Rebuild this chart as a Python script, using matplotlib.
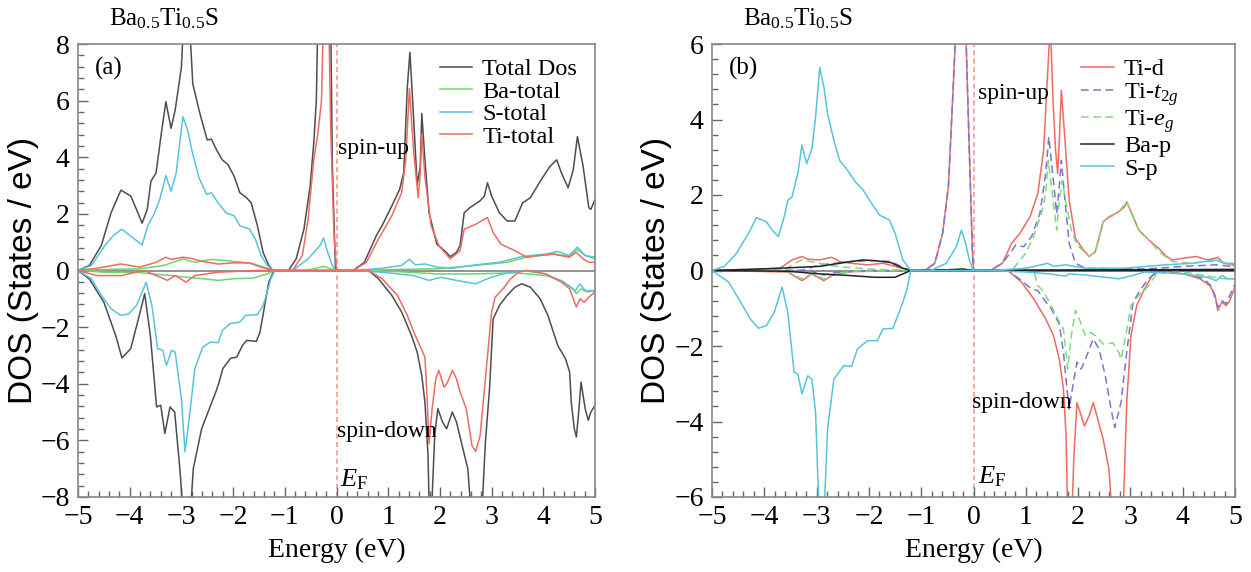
import numpy as np
import matplotlib
matplotlib.use("Agg")
import matplotlib.pyplot as plt
from matplotlib.ticker import MultipleLocator

plt.rcParams["font.family"] = ["Liberation Serif", "DejaVu Serif"]
plt.rcParams["mathtext.fontset"] = "custom"
plt.rcParams["mathtext.rm"] = "Liberation Serif"
plt.rcParams["mathtext.it"] = "Liberation Serif:italic"

# ---- panel (a): total / atom-resolved DOS, [energy, DOS] pairs ----
tot_up = [[-5, 0], [-4.78, 0.18], [-4.55, 0.88], [-4.36, 2.04], [-4.17, 2.84], [-3.98, 2.63], [-3.87, 2.16],
          [-3.76, 1.67], [-3.66, 2.16], [-3.59, 3.15], [-3.49, 3.45], [-3.38, 4.96], [-3.3, 5.96], [-3.2, 5.02],
          [-3.12, 5.67], [-3.0, 7.18], [-2.95, 9], [-2.85, 9], [-2.78, 6.6], [-2.66, 5.67], [-2.59, 5.2],
          [-2.5, 4.61], [-2.42, 4.64], [-2.32, 4.26], [-2.21, 3.91], [-2.1, 3.74], [-1.98, 3.33], [-1.87, 2.75],
          [-1.74, 2.57], [-1.65, 2.39], [-1.53, 1.58], [-1.42, 0.64], [-1.31, 0.18], [-1.23, 0], [-0.93, 0],
          [-0.78, 0.41], [-0.63, 1.46], [-0.51, 2.98], [-0.44, 4.5], [-0.39, 6.0], [-0.35, 10], [-0.12, 10],
          [-0.08, 3.7], [-0.02, 0], [0.32, 0], [0.54, 0.29], [0.77, 1.23], [0.88, 1.58], [1.07, 2.28],
          [1.22, 2.86], [1.3, 3.45], [1.37, 6.48], [1.42, 7.71], [1.49, 5.43], [1.56, 3.04], [1.62, 3.68],
          [1.65, 5.55], [1.71, 3.91], [1.79, 2.04], [1.94, 0.93], [2.09, 0.7], [2.2, 0.49], [2.32, 0.64],
          [2.39, 0.88], [2.47, 2.04], [2.58, 2.22], [2.77, 2.45], [2.86, 2.63], [2.92, 3.1], [3.0, 2.63],
          [3.15, 2.04], [3.3, 1.75], [3.45, 1.75], [3.6, 2.39], [3.75, 2.57], [3.94, 3.15], [4.13, 3.68],
          [4.26, 3.91], [4.35, 3.45], [4.48, 2.92], [4.58, 3.56], [4.66, 4.73], [4.77, 3.68], [4.88, 2.22],
          [4.92, 2.16], [5.0, 2.51]]
tot_dn = [[-5, 0], [-4.78, -0.3], [-4.5, -1.12], [-4.27, -2.3], [-4.15, -3.09], [-3.98, -2.76], [-3.83, -1.7],
          [-3.71, -0.82], [-3.6, -2.3], [-3.48, -4.82], [-3.4, -4.76], [-3.32, -5.76], [-3.22, -4.82],
          [-3.13, -5.0], [-3.03, -7.0], [-2.95, -9], [-2.84, -9], [-2.77, -7.0], [-2.61, -5.6], [-2.46, -4.88],
          [-2.33, -4.27], [-2.27, -3.94], [-2.2, -3.47], [-2.05, -3.1], [-1.93, -3.06], [-1.82, -2.65],
          [-1.74, -2.47], [-1.55, -2.5], [-1.48, -2.18], [-1.4, -1.35], [-1.31, -0.41], [-1.21, 0], [0.62, 0],
          [0.81, -0.29], [1.07, -0.88], [1.26, -1.47], [1.45, -2.29], [1.56, -2.88], [1.65, -3.71], [1.71, -4.65],
          [1.77, -6.53], [1.8, -9], [1.85, -8.0], [1.9, -5.82], [1.96, -4.88], [2.05, -5.35], [2.13, -5.59],
          [2.24, -5.0], [2.32, -5.35], [2.43, -6.18], [2.54, -7.0], [2.62, -9], [2.8, -9], [2.88, -6.06],
          [2.96, -4.18], [3.03, -1.71], [3.15, -1.24], [3.3, -0.88], [3.45, -0.59], [3.58, -0.47], [3.75, -0.59],
          [3.94, -1.0], [4.09, -1.59], [4.28, -2.65], [4.43, -3.12], [4.51, -3.59], [4.54, -4.65], [4.6, -5.59],
          [4.64, -5.88], [4.69, -4.88], [4.73, -3.94], [4.81, -4.88], [4.87, -5.29], [4.92, -5.0], [5.0, -4.76]]
ba_up = [[-5, 0], [-4.4, 0.04], [-3.8, 0.06], [-3.34, 0.18], [-2.97, 0.41], [-2.74, 0.29], [-2.44, 0.39],
         [-2.14, 0.35], [-1.83, 0.29], [-1.61, 0.23], [-1.31, 0.06], [-1.23, 0], [-0.7, 0], [-0.48, 0.04],
         [-0.25, 0.15], [-0.02, 0], [0.32, 0], [1.18, 0.04], [1.94, 0.06], [2.7, 0.18], [3.3, 0.29],
         [3.68, 0.47], [4.2, 0.58], [4.5, 0.5], [4.66, 0.74], [4.81, 0.53], [5.0, 0.41]]
ba_dn = [[-5, 0], [-4.48, -0.06], [-3.87, -0.06], [-3.57, -0.12], [-3.19, -0.18], [-2.89, -0.24], [-2.59, -0.29],
         [-2.29, -0.35], [-1.98, -0.29], [-1.61, -0.27], [-1.34, -0.12], [-1.19, 0], [0.62, 0], [1.18, -0.04],
         [1.94, -0.12], [2.69, -0.12], [3.45, -0.08], [4.05, -0.18], [4.35, -0.35], [4.54, -0.59], [4.64, -0.82],
         [4.73, -0.65], [4.85, -0.76], [5.0, -0.71]]
s_up = [[-5, 0], [-4.74, 0.18], [-4.48, 0.88], [-4.32, 1.23], [-4.15, 1.46], [-3.95, 1.17], [-3.76, 0.9],
        [-3.65, 1.58], [-3.53, 1.99], [-3.42, 2.51], [-3.3, 3.35], [-3.2, 2.8], [-3.1, 3.45], [-3.04, 4.38],
        [-2.97, 5.43], [-2.88, 4.96], [-2.8, 4.26], [-2.66, 3.27], [-2.51, 2.69], [-2.42, 2.75], [-2.29, 2.39],
        [-2.14, 2.04], [-1.98, 1.93], [-1.87, 1.58], [-1.68, 1.46], [-1.57, 1.11], [-1.46, 0.53], [-1.34, 0.18],
        [-1.23, 0], [-0.85, 0], [-0.55, 0.41], [-0.32, 0.88], [-0.25, 1.15], [-0.17, 0.64], [-0.08, 0.18],
        [-0.02, 0], [0.32, 0], [0.88, 0.08], [1.26, 0.18], [1.41, 0.39], [1.53, 0.2], [1.71, 0.23], [1.94, 0.12],
        [2.24, 0.08], [2.7, 0.2], [3.15, 0.29], [3.6, 0.5], [4.05, 0.58], [4.28, 0.67], [4.5, 0.53], [4.66, 0.82],
        [4.81, 0.53], [5.0, 0.47]]
s_dn = [[-5, 0], [-4.74, -0.29], [-4.55, -0.88], [-4.36, -1.35], [-4.17, -1.59], [-4.02, -1.53], [-3.87, -1.24],
        [-3.68, -0.41], [-3.57, -1.24], [-3.46, -2.76], [-3.36, -2.82], [-3.29, -3.35], [-3.19, -2.82],
        [-3.12, -2.88], [-3.0, -4.53], [-2.93, -6.4], [-2.85, -5.24], [-2.74, -3.47], [-2.59, -2.71],
        [-2.44, -2.53], [-2.29, -2.55], [-2.21, -2.12], [-2.06, -1.88], [-1.87, -1.82], [-1.76, -1.59],
        [-1.53, -1.56], [-1.42, -1.24], [-1.34, -0.76], [-1.27, -0.29], [-1.19, 0], [0.32, 0], [0.88, -0.06],
        [1.49, -0.18], [1.79, -0.35], [2.02, -0.24], [2.32, -0.35], [2.69, -0.47], [2.92, -0.29], [3.22, -0.12],
        [3.6, 0], [4.05, -0.12], [4.43, -0.47], [4.62, -0.71], [4.71, -0.47], [4.81, -0.71], [5.0, -0.71]]
ti_up = [[-5, 0], [-4.63, 0.08], [-4.17, 0.23], [-3.8, 0.12], [-3.49, 0.29], [-3.3, 0.47], [-3.19, 0.39],
         [-2.97, 0.47], [-2.82, 0.43], [-2.59, 0.32], [-2.29, 0.23], [-1.98, 0.27], [-1.68, 0.27], [-1.46, 0.12],
         [-1.23, 0], [-0.85, 0], [-0.66, 0.53], [-0.55, 1.8], [-0.44, 3.9], [-0.36, 4.85], [-0.29, 6.0],
         [-0.24, 10], [-0.16, 10], [-0.11, 4.85], [-0.05, 1.34], [0, 0], [0.32, 0], [0.58, 0.29], [0.81, 1.11],
         [1.07, 1.93], [1.26, 2.75], [1.34, 3.91], [1.41, 6.43], [1.49, 4.26], [1.58, 2.57], [1.62, 3.45],
         [1.65, 4.79], [1.71, 3.33], [1.83, 1.58], [1.98, 0.88], [2.2, 0.41], [2.39, 0.7], [2.47, 1.46],
         [2.7, 1.64], [2.92, 1.87], [3.03, 1.34], [3.18, 0.93], [3.45, 0.7], [3.68, 0.47], [3.9, 0.53],
         [4.2, 0.58], [4.5, 0.47], [4.64, 0.64], [4.77, 0.41], [4.88, 0.29], [5.0, 0.29]]
ti_dn = [[-5, 0], [-4.63, -0.18], [-4.17, -0.18], [-3.72, 0], [-3.34, -0.29], [-3.27, -0.35], [-3.12, -0.18],
         [-2.91, -0.41], [-2.74, -0.18], [-2.29, -0.06], [-1.53, 0], [0.62, 0], [0.88, -0.29], [1.18, -0.88],
         [1.37, -1.59], [1.52, -2.29], [1.64, -2.76], [1.71, -3.06], [1.75, -4.41], [1.79, -6.12], [1.85, -4.88],
         [1.92, -3.82], [1.98, -3.53], [2.08, -4.12], [2.15, -3.94], [2.24, -3.53], [2.32, -3.82], [2.39, -4.29],
         [2.51, -4.88], [2.62, -6.18], [2.69, -6.39], [2.78, -5.82], [2.88, -3.82], [3.0, -1.47], [3.07, -0.94],
         [3.22, -0.65], [3.37, -0.29], [3.52, -0.06], [3.68, 0], [4.05, -0.12], [4.35, -0.41], [4.51, -0.65],
         [4.58, -1.0], [4.64, -1.29], [4.71, -1.0], [4.79, -1.12], [4.88, -0.94], [5.0, -0.76]]

# ---- panel (b): orbital-resolved DOS ----
tid_up = [[-5, 0], [-4.3, 0.02], [-3.7, 0.06], [-3.47, 0.28], [-3.28, 0.37], [-3.17, 0.3], [-2.94, 0.28],
          [-2.71, 0.35], [-2.56, 0.24], [-2.33, 0.19], [-2.03, 0.15], [-1.73, 0.19], [-1.5, 0.11], [-1.2, 0],
          [-0.93, 0], [-0.74, 0.19], [-0.59, 0.99], [-0.48, 2.22], [-0.4, 4.5], [-0.35, 6.0], [-0.3, 8],
          [-0.18, 8], [-0.14, 6.0], [-0.08, 3.18], [-0.02, 0.46], [0, 0], [0.32, 0], [0.55, 0.19], [0.73, 0.72],
          [0.89, 0.99], [1.08, 1.42], [1.23, 2.04], [1.34, 3.18], [1.39, 4.5], [1.44, 5.82], [1.47, 6.5],
          [1.52, 4.5], [1.57, 3.18], [1.61, 2.57], [1.64, 3.45], [1.68, 4.77], [1.74, 3.62], [1.83, 1.86],
          [1.95, 0.85], [2.1, 0.55], [2.21, 0.37], [2.33, 0.5], [2.48, 1.29], [2.59, 1.42], [2.78, 1.56],
          [2.89, 1.69], [2.93, 1.82], [3.01, 1.56], [3.16, 1.07], [3.35, 0.81], [3.54, 0.59], [3.69, 0.37],
          [3.8, 0.28], [4.03, 0.33], [4.26, 0.37], [4.48, 0.28], [4.67, 0.35], [4.79, 0.19], [5.0, 0.15]]
tid_dn = [[-5, 0], [-3.55, -0.04], [-3.28, -0.27], [-3.09, -0.09], [-2.86, -0.27], [-2.71, -0.13], [-2.33, -0.03],
          [-1.2, 0], [0.66, 0], [0.92, -0.31], [1.15, -0.75], [1.38, -1.28], [1.53, -1.73], [1.64, -2.35],
          [1.72, -3.14], [1.77, -4.38], [1.8, -6.5], [1.88, -6.5], [1.92, -4.9], [1.98, -3.5], [2.06, -3.85],
          [2.12, -4.12], [2.21, -3.85], [2.29, -3.5], [2.36, -3.85], [2.48, -4.47], [2.59, -5.27], [2.65, -6.5],
          [2.86, -6.5], [2.93, -3.5], [3.01, -1.73], [3.12, -0.93], [3.27, -0.49], [3.42, -0.13], [3.58, 0],
          [4.03, -0.09], [4.33, -0.22], [4.52, -0.4], [4.62, -0.66], [4.67, -1.06], [4.75, -0.84], [4.83, -0.93],
          [4.9, -0.8], [5.0, -0.44]]
t2g_up = [[-5, 0], [-3.3, 0], [-2.94, 0.15], [-2.33, 0.24], [-1.88, 0.26], [-1.58, 0.24], [-1.27, 0.03],
          [-1.2, 0], [-0.93, 0], [-0.74, 0.19], [-0.59, 0.99], [-0.48, 2.22], [-0.4, 4.5], [-0.35, 6.0],
          [-0.3, 8], [-0.18, 8], [-0.14, 6.0], [-0.08, 3.18], [-0.02, 0.46], [0, 0], [0.32, 0], [0.55, 0.19],
          [0.7, 0.46], [0.81, 0.68], [0.96, 0.63], [1.11, 0.9], [1.27, 1.51], [1.38, 2.57], [1.44, 3.54],
          [1.52, 2.48], [1.59, 1.51], [1.64, 2.22], [1.68, 2.92], [1.76, 1.69], [1.83, 0.72], [1.95, 0.19],
          [2.14, 0.06], [3.27, 0.04], [4.03, 0.11], [4.64, 0.15], [5.0, 0.1]]
t2g_dn = [[-5, 0], [-3.1, 0], [-3.02, -0.06], [-2.86, -0.12], [-2.64, -0.05], [-2.0, 0], [0.66, 0],
          [0.92, -0.27], [1.11, -0.49], [1.23, -0.53], [1.34, -0.75], [1.49, -1.02], [1.64, -1.42],
          [1.72, -2.17], [1.78, -3.05], [1.83, -3.67], [1.91, -2.96], [1.98, -2.43], [2.06, -2.61],
          [2.14, -2.35], [2.29, -1.81], [2.4, -2.08], [2.52, -2.79], [2.63, -3.67], [2.7, -4.16], [2.82, -3.5],
          [2.93, -2.17], [3.05, -0.84], [3.2, -0.49], [3.35, -0.22], [3.5, -0.03], [4.03, -0.09], [4.41, -0.22],
          [4.56, -0.44], [4.64, -0.84], [4.67, -0.97], [4.75, -0.8], [4.83, -0.88], [5.0, -0.35]]
eg_up = [[-5, 0], [-3.6, 0.02], [-3.47, 0.15], [-3.28, 0.28], [-2.94, 0.19], [-2.64, 0.11], [-2.03, 0.04],
         [-1.2, 0], [0.73, 0], [1.0, 0.46], [1.15, 0.9], [1.3, 1.51], [1.38, 2.04], [1.43, 2.92], [1.49, 2.22],
         [1.59, 1.07], [1.64, 1.86], [1.7, 2.39], [1.76, 1.86], [1.87, 1.07], [1.98, 0.68], [2.21, 0.37],
         [2.33, 0.5], [2.48, 1.29], [2.78, 1.56], [2.93, 1.82], [3.01, 1.56], [3.16, 1.07], [3.35, 0.81],
         [3.58, 0.46], [3.8, 0.24], [4.18, 0.19], [4.48, 0.24], [4.67, 0.28], [5.0, 0.11]]
eg_dn = [[-5, 0], [-3.55, -0.03], [-3.28, -0.22], [-3.09, -0.08], [-2.86, -0.22], [-2.7, -0.1], [-2.3, -0.02],
         [-1.2, 0], [1.15, 0], [1.23, -0.4], [1.34, -0.55], [1.45, -0.84], [1.61, -1.28], [1.72, -1.55],
         [1.76, -2.08], [1.8, -2.61], [1.87, -1.73], [1.95, -1.05], [2.02, -1.28], [2.14, -1.73], [2.25, -1.64],
         [2.33, -1.73], [2.48, -1.95], [2.67, -1.92], [2.78, -2.17], [2.82, -2.35], [2.91, -1.73], [3.01, -0.93],
         [3.16, -0.66], [3.35, -0.4], [3.5, -0.09], [3.58, 0], [4.03, -0.04], [4.41, -0.13], [4.79, -0.22],
         [5.0, -0.22]]
bap_up = [[-5, 0], [-3.7, 0.06], [-2.94, 0.11], [-2.33, 0.24], [-2.11, 0.28], [-1.88, 0.26], [-1.58, 0.21],
          [-1.35, 0.06], [-1.2, 0], [-0.5, 0.02], [-0.2, 0.04], [0, 0], [1.0, 0.01], [5.0, 0.03]]
bap_dn = [[-5, 0], [-3.55, -0.02], [-2.94, -0.09], [-2.41, -0.13], [-1.88, -0.18], [-1.5, -0.18],
          [-1.35, -0.09], [-1.2, 0], [5.0, 0]]
sp_up = [[-5, 0], [-4.76, 0.11], [-4.53, 0.46], [-4.3, 0.99], [-4.15, 1.4], [-3.96, 1.29], [-3.85, 1.07],
         [-3.73, 0.9], [-3.62, 1.42], [-3.55, 1.86], [-3.47, 1.95], [-3.36, 2.57], [-3.28, 3.32], [-3.19, 2.83],
         [-3.09, 3.23], [-3.02, 4.06], [-2.94, 5.38], [-2.86, 4.85], [-2.79, 4.15], [-2.67, 3.45], [-2.56, 2.92],
         [-2.41, 2.66], [-2.26, 2.35], [-2.11, 2.13], [-1.95, 1.78], [-1.8, 1.47], [-1.61, 1.34], [-1.5, 0.99],
         [-1.35, 0.28], [-1.2, 0], [-0.82, 0], [-0.52, 0.19], [-0.33, 0.63], [-0.23, 1.07], [-0.15, 0.72],
         [-0.08, 0.28], [0, 0], [0.32, 0], [1.0, 0.06], [1.42, 0.19], [1.53, 0.11], [1.76, 0.15], [2.14, 0.06],
         [2.89, 0.06], [3.65, 0.15], [4.18, 0.19], [4.64, 0.28], [4.79, 0.19], [5.0, 0.19]]
sp_dn = [[-5, 0], [-4.68, -0.31], [-4.45, -0.84], [-4.27, -1.28], [-4.11, -1.53], [-3.96, -1.46], [-3.81, -1.11],
         [-3.66, -0.44], [-3.55, -1.11], [-3.43, -2.7], [-3.36, -2.74], [-3.28, -3.27], [-3.17, -2.79],
         [-3.09, -2.88], [-3.02, -3.76], [-2.95, -6.5], [-2.86, -6.5], [-2.79, -4.2], [-2.67, -2.88],
         [-2.48, -2.52], [-2.33, -2.54], [-2.22, -2.08], [-2.03, -1.86], [-1.84, -1.86], [-1.73, -1.55],
         [-1.54, -1.53], [-1.35, -0.84], [-1.27, -0.49], [-1.2, 0], [0.32, 0], [1.0, -0.04], [1.45, -0.09],
         [1.76, -0.15], [1.83, -0.09], [2.14, -0.12], [2.52, -0.18], [2.78, -0.22], [3.05, -0.13], [3.27, -0.04],
         [4.03, -0.09], [4.48, -0.18], [4.64, -0.27], [4.75, -0.13], [4.86, -0.22], [5.0, -0.22]]

c_tot = "#4d4d4d"
c_green = "#6fd46a"
c_cyan = "#58c4dc"
c_red = "#ee6b63"
c_blue = "#7777cc"
c_egg = "#7ddb7d"


def line(ax, pts, **kw):
    a = np.array(pts)
    return ax.plot(a[:, 0], a[:, 1], lw=1.1, **kw)[0]


def style(ax, ymax, letter):
    ax.set_xlim(-5, 5)
    ax.set_ylim(-ymax, ymax)
    ax.xaxis.set_major_locator(MultipleLocator(1))
    ax.xaxis.set_minor_locator(MultipleLocator(0.2))
    ax.yaxis.set_major_locator(MultipleLocator(2))
    ax.yaxis.set_minor_locator(MultipleLocator(0.4))
    ax.tick_params(which="both", direction="in", top=False, right=False, labelsize=20,
                   color="#666666")
    ax.tick_params(which="major", length=7, width=1.0, pad=6)
    ax.tick_params(which="minor", length=4.5, width=1.0)
    for s in ax.spines.values():
        s.set_color("#888888")
        s.set_linewidth(1.2)
    ax.axhline(0, color="#7f7f7f", lw=1.2, zorder=1)
    ax.axvline(0, color="#f29a94", lw=1.2, ls=(0, (3, 2)), zorder=1)
    ax.set_xlabel("Energy (eV)", fontsize=20)
    ax.xaxis.set_label_coords(0.5, -0.09)
    ax.set_ylabel("DOS (States / eV)", fontsize=24, family=["Liberation Sans", "DejaVu Sans"])
    ax.yaxis.set_label_coords(-0.076, 0.5)
    ax.text(0.06, 1.055, r"Ba$_{0.5}$Ti$_{0.5}$S", transform=ax.transAxes, fontsize=18,
            ha="left", va="center")
    ax.text(0.033, 0.945, letter, transform=ax.transAxes, fontsize=18, ha="left", va="center")


def legend(ax, handles, x):
    ax.legend(handles=handles, loc="upper left", bbox_to_anchor=(x, 0.987), frameon=False,
              fontsize=17.5, handlelength=1.35, handletextpad=0.4, labelspacing=0.02, borderpad=0.15,
              borderaxespad=0.2)


fig = plt.figure(figsize=(12.51, 5.72), dpi=100)
ax1 = fig.add_axes([78 / 1251, 1 - 497 / 572, 517 / 1251, 453 / 572])
ax2 = fig.add_axes([712 / 1251, 1 - 497 / 572, 523 / 1251, 453 / 572])

# panel (a)
h1 = line(ax1, tot_up, color=c_tot, label="Total Dos")
line(ax1, tot_dn, color=c_tot)
h2 = line(ax1, ba_up, color=c_green, label="Ba-total")
line(ax1, ba_dn, color=c_green)
h3 = line(ax1, s_up, color=c_cyan, label="S-total")
line(ax1, s_dn, color=c_cyan)
h4 = line(ax1, ti_up, color=c_red, label="Ti-total")
line(ax1, ti_dn, color=c_red)
style(ax1, 8, "(a)")
legend(ax1, [h1, h2, h3, h4], 0.683)
ax1.text(0.02, 4.3, "spin-up", fontsize=17, ha="left", va="center")
ax1.text(0.0, -5.7, "spin-down", fontsize=17, ha="left", va="center")
ax1.text(0.06, -7.4, r"$E_\mathrm{F}$", fontsize=19, ha="left", va="center")

# panel (b)
g1 = line(ax2, tid_up, color=c_red, label="Ti-d")
line(ax2, tid_dn, color=c_red)
g2 = line(ax2, t2g_up, color=c_blue, ls=(0, (5, 3)), label=r"Ti-$t_{2g}$")
line(ax2, t2g_dn, color=c_blue, ls=(0, (5, 3)))
g3 = line(ax2, eg_up, color=c_egg, ls=(0, (5, 3)), label=r"Ti-$e_g$")
line(ax2, eg_dn, color=c_egg, ls=(0, (5, 3)))
g4 = line(ax2, bap_up, color="#222222", label="Ba-p")
line(ax2, bap_dn, color="#222222")
g5 = line(ax2, sp_up, color=c_cyan, label="S-p")
line(ax2, sp_dn, color=c_cyan)
style(ax2, 6, "(b)")
legend(ax2, [g1, g2, g3, g4, g5], 0.69)
ax2.text(0.08, 4.7, "spin-up", fontsize=17, ha="left", va="center")
ax2.text(-0.02, -3.5, "spin-down", fontsize=17, ha="left", va="center")
ax2.text(0.08, -5.45, r"$E_\mathrm{F}$", fontsize=19, ha="left", va="center")

fig.savefig("out.png", dpi=100)
